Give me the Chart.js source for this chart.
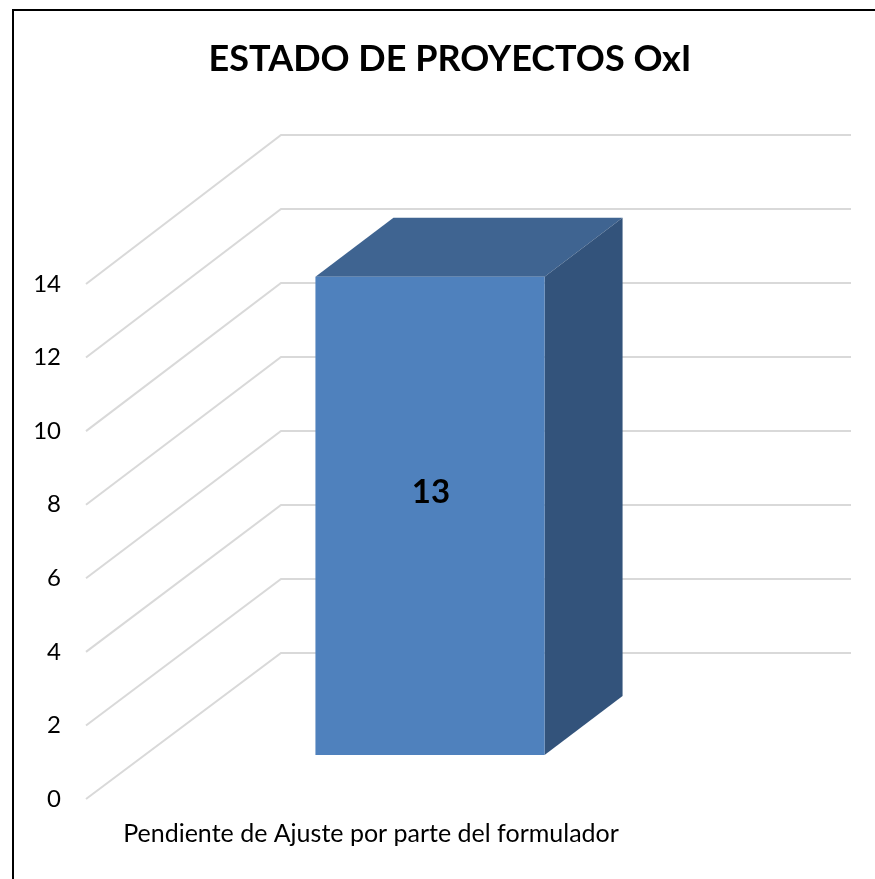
<!DOCTYPE html>
<html lang="es">
<head>
<meta charset="utf-8">
<title>ESTADO DE PROYECTOS OxI</title>
<script src="https://cdn.jsdelivr.net/npm/chart.js@4/dist/chart.umd.min.js"></script>
<style>html,body{margin:0;padding:0;background:#fff}canvas{display:block}</style>
</head>
<body>
<canvas id="c" width="875" height="879"></canvas>
<script>
const titleText = 'ESTADO DE PROYECTOS OxI';
const categories = ['Pendiente de Ajuste por parte del formulador'];
const seriesName = 'Proyectos';
const seriesValues = [13];
const axisMax = 14;
const axisStep = 2;
const FONT = 'Lato, "Open Sans", sans-serif';

const wall = {dx: 195, dy: 146, stretch: 3};
const barFront = {dx: 59, dy: 44};
const barDepth = {dx: 78, dy: 59};
const labelLift = 24;

const scene3d = {
  id: 'scene3d',
  beforeDraw(chart) {
    const {ctx, scales: {y}, chartArea: a} = chart;
    ctx.save();
    ctx.fillStyle = '#fff';
    ctx.fillRect(0, 0, chart.width, chart.height);
    // outer frame: top and left only
    ctx.strokeStyle = '#000';
    ctx.lineWidth = 2;
    ctx.beginPath();
    ctx.moveTo(13, chart.height);
    ctx.lineTo(13, 10);
    ctx.lineTo(chart.width, 10);
    ctx.stroke();
    // wall and side-wall gridlines from the value scale
    ctx.strokeStyle = '#d9d9d9';
    ctx.lineWidth = 2;
    for (const t of y.ticks) {
      const py = y.getPixelForValue(t.value);
      const back = py - wall.dy - wall.stretch * t.value / axisMax;
      ctx.beginPath();
      ctx.moveTo(a.left, py);
      ctx.lineTo(a.left + wall.dx, back);
      ctx.lineTo(a.right + wall.dx, back);
      ctx.stroke();
    }
    ctx.restore();
  },
  beforeDatasetDraw(chart, args) {
    const {ctx} = chart;
    const bar = chart.getDatasetMeta(args.index).data[0];
    const p = bar.getProps(['x', 'y', 'base', 'width'], true);
    const l = p.x - p.width / 2, r = p.x + p.width / 2;
    ctx.save();
    ctx.translate(barFront.dx, -barFront.dy);
    ctx.fillStyle = '#3F6491';
    ctx.beginPath();
    ctx.moveTo(l, p.y);
    ctx.lineTo(l + barDepth.dx, p.y - barDepth.dy);
    ctx.lineTo(r + barDepth.dx, p.y - barDepth.dy);
    ctx.lineTo(r, p.y);
    ctx.closePath();
    ctx.fill();
    ctx.fillStyle = '#33537B';
    ctx.beginPath();
    ctx.moveTo(r, p.y);
    ctx.lineTo(r + barDepth.dx, p.y - barDepth.dy);
    ctx.lineTo(r + barDepth.dx, p.base - barDepth.dy);
    ctx.lineTo(r, p.base);
    ctx.closePath();
    ctx.fill();
  },
  afterDatasetDraw(chart, args) {
    const {ctx} = chart;
    const bar = chart.getDatasetMeta(args.index).data[0];
    const p = bar.getProps(['x', 'y', 'base'], true);
    ctx.fillStyle = '#000';
    ctx.font = 'bold 33px ' + FONT;
    ctx.textAlign = 'center';
    ctx.textBaseline = 'middle';
    ctx.fillText(String(seriesValues[args.index]), p.x + 1, (p.y + p.base) / 2 - labelLift);
    ctx.restore();
  }
};

new Chart(document.getElementById('c'), {
  type: 'bar',
  data: {
    labels: categories,
    datasets: [{
      label: seriesName,
      data: seriesValues,
      backgroundColor: '#4F81BD',
      borderWidth: 0,
      barPercentage: 0.402,
      categoryPercentage: 1,
      yAxisID: 'y'
    }]
  },
  plugins: [scene3d],
  options: {
    responsive: false,
    animation: false,
    layout: {padding: {left: 25, right: 0, top: 0, bottom: 0}},
    plugins: {
      legend: {display: false},
      tooltip: {enabled: false},
      title: {
        display: true,
        text: titleText,
        color: '#000',
        font: {family: FONT, size: 36, weight: 'bold', lineHeight: 1.2},
        padding: {top: 38, bottom: 202.8}
      }
    },
    scales: {
      x: {
        grid: {display: false, drawTicks: false},
        border: {display: false},
        ticks: {color: '#000', font: {family: FONT, size: 25}, padding: 20, maxRotation: 0, autoSkip: false},
        afterFit(s) { s.height = 80; }
      },
      y: {
        min: 0,
        max: axisMax,
        position: 'left',
        grid: {display: false, drawTicks: false},
        border: {display: false},
        ticks: {stepSize: axisStep, color: '#000', font: {family: FONT, size: 24}, padding: 25},
        afterFit(s) { s.width = 61; }
      },
      spacer: {
        position: 'right',
        display: true,
        min: 0,
        max: axisMax,
        grid: {display: false, drawTicks: false},
        border: {display: false},
        ticks: {display: false},
        afterFit(s) { s.width = 219; }
      }
    }
  }
});
</script>
</body>
</html>
